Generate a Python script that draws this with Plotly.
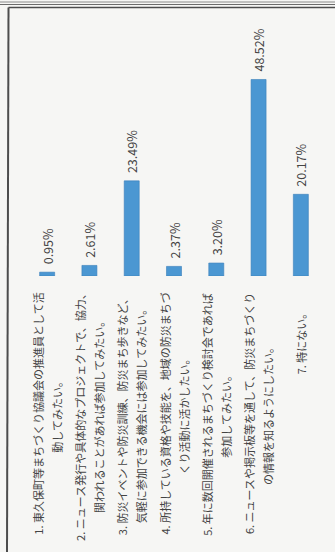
import plotly.graph_objects as go

# Survey answers (wrapped into the two lines they are printed on)
label_lines = [
    ["1. 東久保町等まちづくり協議会の推進員として活", "動してみたい。"],
    ["2. ニュース発行や具体的なプロジェクトで、協力、", "関われることがあれば参加してみたい。"],
    ["3. 防災イベントや防災訓練、防災まち歩きなど、", "気軽に参加できる機会には参加してみたい。"],
    ["4. 所持している資格や技能を、地域の防災まちづ", "くり活動に活かしたい。"],
    ["5. 年に数回開催されるまちづくり検討会であれば", "参加してみたい。"],
    ["6. ニュースや掲示板等を通して、防災まちづくり", "の情報を知るようにしたい。"],
    ["7. 特にない。"],
]
categories = ["Q1", "Q2", "Q3", "Q4", "Q5", "Q6", "Q7"]
shares = [0.95, 2.61, 23.49, 2.37, 3.20, 48.52, 20.17]

W, H = 335, 552
ML, MR, MT, MB = 26, 13, 33, 276
plot_w = W - ML - MR
plot_h = H - MT - MB

FONT = "Noto Sans CJK JP"
TEXT = "#444444"
BAR = "#4b97d2"


def px_x(px):
    return (px - ML) / plot_w


def px_y(py):
    return (H - MB - py) / plot_h


fig = go.Figure(
    go.Bar(
        x=categories,
        y=shares,
        marker=dict(color=BAR, line=dict(color="#3b80ba", width=0.6)),
        hoverinfo="skip",
    )
)

annotations = []
# value labels, rotated to read upward above each bar
for c, v in zip(categories, shares):
    annotations.append(dict(
        x=c, y=v, xref="x", yref="y",
        text=f"{v:.2f}%", textangle=-90,
        showarrow=False, yanchor="bottom", yshift=6,
        font=dict(family=FONT, size=12.5, color=TEXT),
    ))

# rotated category labels under the baseline, one annotation per line
LINE_GAP = 19
for c, lines in zip(categories, label_lines):
    n = len(lines)
    for k, line in enumerate(lines):
        if n > 1:
            ypos, yanc = px_y(414), "middle"
        else:
            ypos, yanc = px_y(305), "top"
        annotations.append(dict(
            x=c, y=ypos, xref="x", yref="paper",
            text=line, textangle=-90,
            showarrow=False, xanchor="center", yanchor=yanc,
            xshift=(k - (n - 1) / 2) * LINE_GAP,
            font=dict(family=FONT, size=11, color=TEXT),
        ))

# page frame lines
frame = "#4d4d4d"
shapes = [
    dict(type="line", xref="paper", yref="paper",
         x0=px_x(0), x1=px_x(W), y0=px_y(2), y1=px_y(2),
         line=dict(color="#8a8a8a", width=1)),
    dict(type="line", xref="paper", yref="paper",
         x0=px_x(0), x1=px_x(W), y0=px_y(4.5), y1=px_y(4.5),
         line=dict(color="#6a6a6a", width=1)),
    dict(type="line", xref="paper", yref="paper",
         x0=px_x(8.5), x1=px_x(W), y0=px_y(7.5), y1=px_y(7.5),
         line=dict(color=frame, width=1.5)),
    dict(type="line", xref="paper", yref="paper",
         x0=px_x(8.5), x1=px_x(7), y0=px_y(7.5), y1=px_y(H),
         line=dict(color=frame, width=2)),
]

fig.update_layout(
    width=W, height=H,
    margin=dict(l=ML, r=MR, t=MT, b=MB),
    paper_bgcolor="#f6f6f4",
    plot_bgcolor="#f6f6f4",
    bargap=0.645,
    showlegend=False,
    xaxis=dict(type="category", showticklabels=False, showgrid=False,
               zeroline=False, showline=False, ticks=""),
    yaxis=dict(range=[0, 60], showticklabels=False, showgrid=False,
               zeroline=False, showline=False, ticks=""),
    annotations=annotations,
    shapes=shapes,
)

fig.write_html("out.html")
